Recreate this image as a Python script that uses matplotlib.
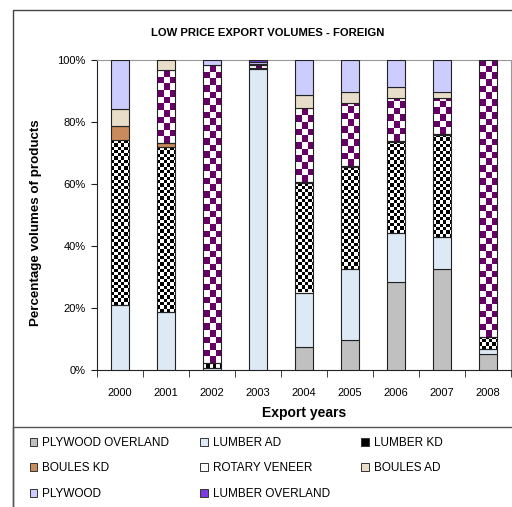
import math

import numpy as np
import matplotlib
matplotlib.use("Agg")
import matplotlib.pyplot as plt
from matplotlib.colors import ListedColormap
from matplotlib.patches import Patch, Rectangle

plt.rcParams["font.family"] = ["Liberation Sans", "DejaVu Sans"]

years = ["2000", "2001", "2002", "2003", "2004", "2005", "2006", "2007", "2008"]
plywood_overland = [0, 0, 0, 0, 7.5, 9.7, 28.5, 32.6, 5.2]
lumber_ad = [21.0, 18.8, 0.8, 97.0, 17.5, 22.8, 15.8, 10.2, 1.5]
lumber_kd = [53.2, 53.2, 1.5, 0.3, 35.2, 33.1, 29.3, 33.0, 3.8]
boules_kd = [4.5, 1.2, 0, 0, 0.3, 0.3, 0.3, 0.3, 0]
rotary_veneer = [0, 23.5, 96.2, 1.0, 23.9, 20.1, 14.0, 11.5, 89.5]
boules_ad = [5.4, 3.3, 0, 0.4, 4.3, 3.8, 3.3, 2.0, 0]
plywood = [15.9, 0, 1.5, 0.8, 11.3, 10.2, 8.8, 10.4, 0]
lumber_overland = [0, 0, 0, 0.5, 0, 0, 0, 0, 0]

# (label, values, fill, checker colour or None, checker square in px)
series = [
    ("PLYWOOD OVERLAND", plywood_overland, "#C0C0C0", None, 0),
    ("LUMBER AD", lumber_ad, "#DDEAF6", None, 0),
    ("LUMBER KD", lumber_kd, "none", "#000000", 3.3),
    ("BOULES KD", boules_kd, "#C98A5C", None, 0),
    ("ROTARY VENEER", rotary_veneer, "none", "#660066", 6.6),
    ("BOULES AD", boules_ad, "#E8DDC8", None, 0),
    ("PLYWOOD", plywood, "#CCCCFF", None, 0),
    ("LUMBER OVERLAND", lumber_overland, "#7A3CE0", None, 0),
]

W, H = 512, 507
fig = plt.figure(figsize=(W / 100, H / 100), dpi=100)
ax = fig.add_axes([97 / W, 1 - 370 / H, 414 / W, 310 / H])

x = np.arange(len(years))
ax.set_xlim(-0.5, len(years) - 0.5)
ax.set_ylim(0, 100)

ppx = 414 / len(years)   # px per x unit
ppy = 310 / 100          # px per percent

bottom = np.zeros(len(years))
for label, vals, fc, chk, sq in series:
    vals = np.array(vals, dtype=float)
    lws = [0.8 if v > 0 else 0 for v in vals]
    bars = ax.bar(x, vals, 0.41, bottom=bottom, facecolor=fc,
                  edgecolor="#222222", linewidth=lws, zorder=3)
    if chk:
        # checkerboard fill, clipped to each bar segment
        cmap = ListedColormap(["white", chk])
        sx, sy = sq / ppx, sq / ppy
        for rect in bars:
            h = rect.get_height()
            if h <= 0:
                continue
            x0, y0, w = rect.get_x(), rect.get_y(), rect.get_width()
            nc, nr = math.ceil(w / sx), math.ceil(h / sy)
            arr = (np.add.outer(np.arange(nr), np.arange(nc)) % 2)
            im = ax.imshow(arr, cmap=cmap, vmin=0, vmax=1, origin="lower",
                           extent=(x0, x0 + nc * sx, y0, y0 + nr * sy),
                           interpolation="nearest", aspect="auto", zorder=2)
            im.set_clip_path(rect)
    bottom += vals

ax.set_xlim(-0.5, len(years) - 0.5)
ax.set_ylim(0, 100)

ax.set_xticks(x)
ax.set_xticklabels(years, fontsize=8)
ax.tick_params(axis="x", which="major", length=0, pad=13)
ax.set_xticks(np.arange(-0.5, len(years)), minor=True)
ax.tick_params(axis="x", which="minor", length=5, direction="out", color="#222222")
ax.set_yticks(np.arange(0, 101, 20))
ax.set_yticklabels([f"{v}%" for v in range(0, 101, 20)], fontsize=8)
ax.tick_params(axis="y", length=4, direction="out", pad=4, color="#222222")

for sp in ("top", "right"):
    ax.spines[sp].set_color("#999999")
for sp in ("left", "bottom"):
    ax.spines[sp].set_color("#222222")

ax.set_xlabel("Export years", fontsize=10, fontweight="bold", labelpad=6)
ax.set_ylabel("Percentage volumes of products", fontsize=9.6, fontweight="bold")
ax.yaxis.set_label_coords(-0.133, 0.475)
fig.text(268 / W, 1 - 33 / H, "LOW PRICE EXPORT VOLUMES - FOREIGN",
         ha="center", va="center", fontsize=8.1, fontweight="bold")

# outer chart border and legend box (both run off the right/bottom edge)
fig.patches.append(Rectangle((13 / W, -0.1), 1.2, 1 - 10 / H + 0.1,
                             transform=fig.transFigure, fill=False,
                             edgecolor="#444444", linewidth=1.0))
fig.patches.append(Rectangle((13 / W, -0.1), 1.2, 1 - 427 / H + 0.1,
                             transform=fig.transFigure, fill=False,
                             edgecolor="#555555", linewidth=1.0))

glyph = {
    "PLYWOOD OVERLAND": dict(facecolor="#C0C0C0"),
    "LUMBER AD": dict(facecolor="#DDEAF6"),
    "LUMBER KD": dict(facecolor="#000000"),
    "BOULES KD": dict(facecolor="#C98A5C"),
    "ROTARY VENEER": dict(facecolor="white"),
    "BOULES AD": dict(facecolor="#E8DDC8"),
    "PLYWOOD": dict(facecolor="#CCCCFF"),
    "LUMBER OVERLAND": dict(facecolor="#7A3CE0"),
}
# legend fills column by column, so order it to read row by row
order = ["PLYWOOD OVERLAND", "BOULES KD", "PLYWOOD",
         "LUMBER AD", "ROTARY VENEER", "LUMBER OVERLAND",
         "LUMBER KD", "BOULES AD"]
handles = [Patch(edgecolor="#333333", linewidth=0.7, label=n, **glyph[n]) for n in order]
fig.legend(handles=handles, ncol=3, loc="upper left",
           bbox_to_anchor=(25 / W, 1 - 432 / H), frameon=False, fontsize=8.5,
           handlelength=0.65, handleheight=0.65, handletextpad=0.4,
           columnspacing=2.65, labelspacing=1.15, borderaxespad=0)

fig.savefig("out.png", dpi=100)
